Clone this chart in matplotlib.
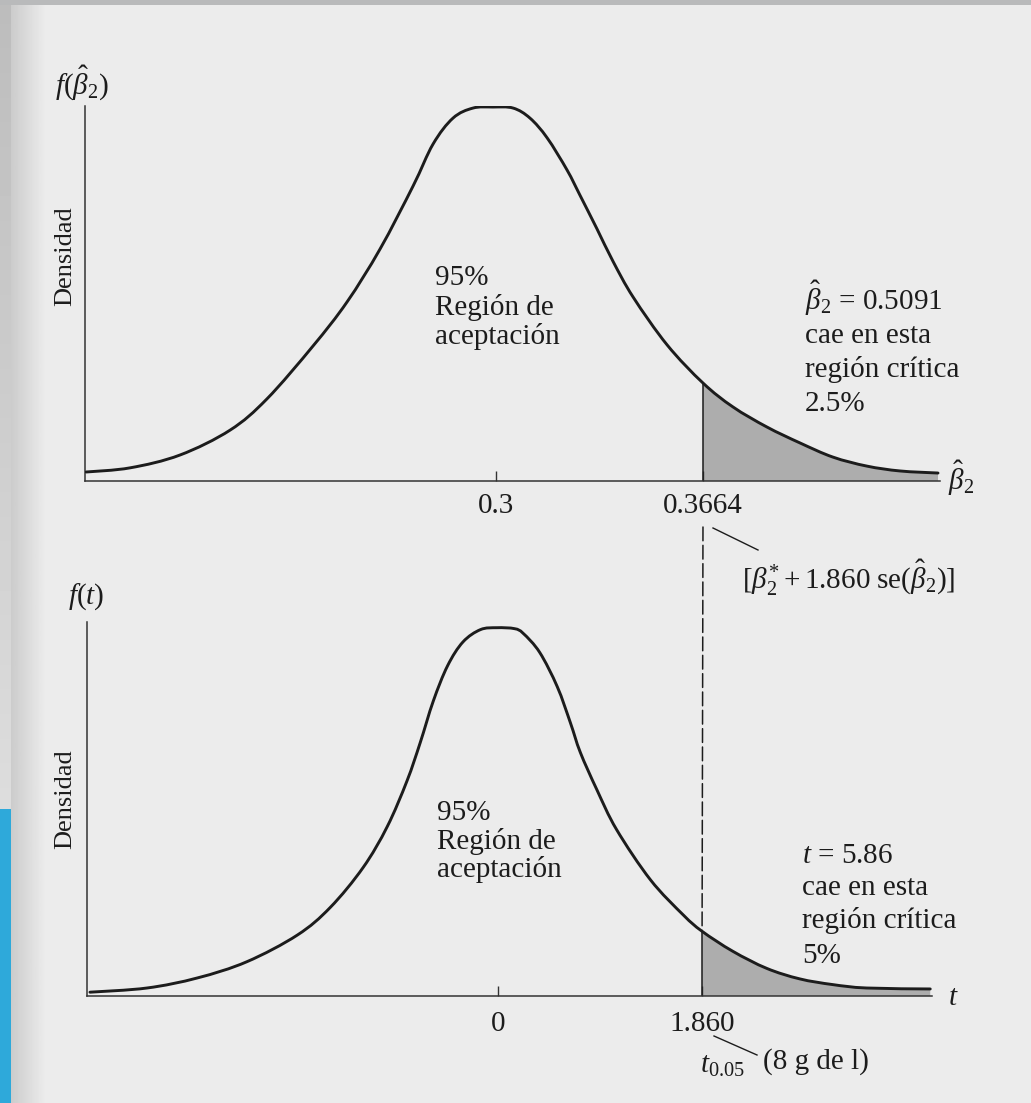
import matplotlib
matplotlib.use("Agg")
import matplotlib.pyplot as plt
import numpy as np
from matplotlib.patches import ConnectionPatch, Rectangle, PathPatch
from matplotlib.lines import Line2D
from matplotlib.path import Path

plt.rcParams['font.family'] = ['Liberation Serif', 'DejaVu Serif']
plt.rcParams['mathtext.fontset'] = 'custom'
plt.rcParams['mathtext.rm'] = 'Liberation Serif'
plt.rcParams['mathtext.it'] = 'Liberation Serif:italic'
plt.rcParams['mathtext.bf'] = 'Liberation Serif:bold'

# densidad de beta2 estimado (eje en unidades de beta2)
beta_x = [0.1685, 0.1826, 0.1986, 0.2147, 0.2265, 0.2413, 0.2522, 0.2628,
          0.2734, 0.2798, 0.2862, 0.2926, 0.2990, 0.3055, 0.3109, 0.3164,
          0.3228, 0.3269, 0.3324, 0.3375, 0.3440, 0.3549, 0.3664, 0.3760,
          0.3869, 0.3975, 0.4081, 0.4190, 0.4296, 0.4418]
beta_f = [0.26, 0.38, 0.75, 1.47, 2.37, 3.90, 5.17, 6.70,
          8.52, 9.73, 10.48, 10.77, 10.80, 10.77, 10.48, 9.91,
          8.98, 8.26, 7.28, 6.35, 5.31, 3.93, 2.83, 2.14,
          1.56, 1.10, 0.69, 0.43, 0.29, 0.23]
beta_mean = 0.3
beta_crit = 0.3664
beta_obs = 0.5091

# densidad t con 8 g de l
t_x = [-3.72, -3.20, -2.74, -2.29, -1.83, -1.53, -1.23, -1.01, -0.83, -0.71,
       -0.59, -0.46, -0.32, -0.16, -0.01, 0.15, 0.23, 0.38, 0.54, 0.66,
       0.75, 0.90, 1.08, 1.39, 1.69, 1.86, 2.14, 2.45, 2.75, 3.05,
       3.36, 3.94]
t_f = [0.004, 0.0084, 0.019, 0.036, 0.064, 0.093, 0.135, 0.178, 0.226, 0.266,
       0.310, 0.347, 0.372, 0.385, 0.387, 0.386, 0.381, 0.361, 0.325, 0.287,
       0.256, 0.217, 0.175, 0.122, 0.085, 0.068, 0.047, 0.029, 0.018, 0.012,
       0.0084, 0.0074]
t_mean = 0
t_crit = 1.860
t_obs = 5.86

W, H = 1031, 1103
ink = '#1c1c1c'
shade = '#adadad'
fs = 21


def fx(px):
    return px / W


def fy(py):
    return 1 - py / H


def bezier(x, y, start=0, end=None):
    # curva suave (Catmull-Rom) que pasa por los puntos start..end
    pts = np.column_stack([x, y])
    n = len(pts)
    if end is None:
        end = n - 1
    verts = [pts[start]]
    codes = [Path.MOVETO]
    for i in range(start, end):
        p0 = pts[max(i - 1, 0)]
        p1 = pts[i]
        p2 = pts[i + 1]
        p3 = pts[min(i + 2, n - 1)]
        verts += [p1 + (p2 - p0) / 6, p2 - (p3 - p1) / 6, p2]
        codes += [Path.CURVE4] * 3
    return verts, codes


def draw_density(ax, x, y, crit):
    verts, codes = bezier(x, y)
    ax.add_patch(PathPatch(Path(verts, codes), fill=False, edgecolor=ink,
                           lw=2.1, joinstyle='round', capstyle='round', zorder=3))
    k = list(x).index(crit)
    verts, codes = bezier(x, y, start=k)
    verts += [(x[-1], 0), (crit, 0), (crit, y[k])]
    codes += [Path.LINETO, Path.LINETO, Path.CLOSEPOLY]
    ax.add_patch(PathPatch(Path(verts, codes), facecolor=shade, lw=0, zorder=1))
    ax.plot([crit, crit], [0, y[k]], color=ink, lw=1.1, zorder=2)
    return y[k]


fig = plt.figure(figsize=(W / 100, H / 100), dpi=100)
fig.patch.set_facecolor('#ececec')

# fondo de pagina: borde gris superior, lomo y franja azul
bg = fig.add_axes([0, 0, 1, 1], zorder=-10)
bg.axis('off')
bg.set_xlim(0, W)
bg.set_ylim(H, 0)
bg.imshow(np.linspace(0.80, 0.926, 40)[None, :], cmap='gray', vmin=0, vmax=1,
          extent=[11, 46, H, 0], aspect='auto', interpolation='bilinear')
bg.imshow(np.linspace(0.74, 0.865, 40)[:, None], cmap='gray', vmin=0, vmax=1,
          extent=[0, 11, 809, 0], aspect='auto', interpolation='bilinear')
bg.add_patch(Rectangle((0, 809), 11, H - 809, color='#2ea9da', lw=0))
bg.add_patch(Rectangle((0, 0), W, 5, color='#b9babb', lw=0))


def setup(ax):
    for side in ['top', 'right']:
        ax.spines[side].set_visible(False)
    for side in ['left', 'bottom']:
        ax.spines[side].set_color('#333333')
        ax.spines[side].set_linewidth(1.1)
    ax.set_facecolor('none')
    ax.set_yticks([])


# panel superior
ax1 = fig.add_axes([fx(85), fy(481), (940 - 85) / W, (481 - 106) / H])
setup(ax1)
ax1.set_xlim(0.16814, 0.44244)
ax1.set_ylim(0, 10.83)
draw_density(ax1, beta_x, beta_f, beta_crit)
ax1.set_xticks([beta_mean, beta_crit], labels=['0.3', '0.3664'])
ax1.tick_params(axis='x', direction='in', length=7, width=1, color='#333333',
                pad=8.5, labelsize=fs, labelcolor=ink)

# panel inferior
ax2 = fig.add_axes([fx(87), fy(996), (932 - 87) / W, (996 - 622) / H])
setup(ax2)
ax2.set_xlim(-3.747, 3.956)
ax2.set_ylim(0, 0.393)
f_crit = draw_density(ax2, t_x, t_f, t_crit)
ax2.set_xticks([t_mean, t_crit], labels=['0', '1.860'])
ax2.tick_params(axis='x', direction='in', length=7, width=1, color='#333333',
                pad=10.5, labelsize=fs, labelcolor=ink)

# linea discontinua que une ambos valores criticos
con = ConnectionPatch(xyA=(beta_crit, -46 / 375), coordsA=ax1.get_xaxis_transform(),
                      xyB=(t_crit, f_crit), coordsB=ax2.transData,
                      color=ink, lw=1.1, linestyle=(0, (9, 3)))
fig.add_artist(con)

# rotulos de ejes
fig.text(fx(55), fy(83), r'$f(\hat{\beta}_2)$', fontsize=fs, color=ink, va='center')
fig.text(fx(68), fy(597), r'$f(t)$', fontsize=fs, color=ink, va='center')
fig.text(fx(65), fy(256), 'Densidad', fontsize=19, color=ink, rotation=90,
         ha='center', va='center')
fig.text(fx(65), fy(799), 'Densidad', fontsize=19, color=ink, rotation=90,
         ha='center', va='center')
fig.text(fx(948), fy(478), r'$\hat{\beta}_2$', fontsize=fs, color=ink, va='center')
fig.text(fx(948), fy(998), r'$t$', fontsize=fs, color=ink, va='center')


def block(x, baselines, lines):
    for yb, s in zip(baselines, lines):
        fig.text(fx(x), fy(yb), s, fontsize=fs, color=ink, va='baseline')


block(435, [285, 315, 344], ['95%', 'Región de', 'aceptación'])
block(805, [310, 343, 377, 411],
      [r'$\hat{\beta}_2$' + f' = {beta_obs}', 'cae en esta', 'región crítica', '2.5%'])
block(437, [820, 849, 877], ['95%', 'Región de', 'aceptación'])
block(802, [863, 895, 928, 963],
      [r'$t$' + f' = {t_obs}', 'cae en esta', 'región crítica', '5%'])

# valores criticos con su expresion
fig.add_artist(Line2D([fx(713), fx(758)], [fy(528), fy(550)], color=ink, lw=1.0))
fig.text(fx(742), fy(578), r'$[\beta_2^{*} + 1.860\ \mathrm{se}(\hat{\beta}_2)]$',
         fontsize=fs, color=ink, va='center')
fig.add_artist(Line2D([fx(714), fx(757)], [fy(1036), fy(1055)], color=ink, lw=1.0))
fig.text(fx(700), fy(1066), r'$t_{0.05}$', fontsize=fs, color=ink, va='center')
fig.text(fx(763), fy(1062), '(8 g de l)', fontsize=fs, color=ink, va='center')

fig.savefig('out.png', dpi=100, facecolor=fig.get_facecolor())
